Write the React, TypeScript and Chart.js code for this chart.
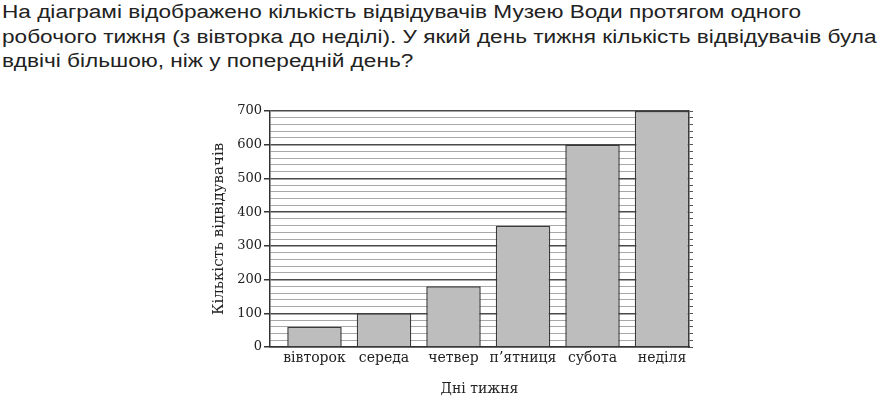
import React, { useEffect, useRef } from "react";
import { Chart, registerables } from "chart.js";

Chart.register(...registerables);

const questionLines = [
  "На діаграмі відображено кількість відвідувачів Музею Води протягом одного",
  "робочого тижня (з вівторка до неділі). У який день тижня кількість відвідувачів була",
  "вдвічі більшою, ніж у попередній день?",
];
const days = ["вівторок", "середа", "четвер", "п’ятниця", "субота", "неділя"];
const visitors = [60, 100, 180, 360, 600, 700];
const yTickLabels = [0, 100, 200, 300, 400, 500, 600, 700];
const yTitle = "Кількість відвідувачів";
const xTitle = "Дні тижня";

const SERIF = "'DejaVu Serif', serif";

export default function App() {
  const ref = useRef<HTMLCanvasElement | null>(null);

  useEffect(() => {
    if (!ref.current) return;
    const chart = new Chart(ref.current, {
      type: "bar",
      data: {
        datasets: [
          {
            data: visitors.map((v, i) => ({ x: i, y: v })),
            backgroundColor: "#bdbdbd",
            borderColor: "#3a3a3a",
            borderWidth: 1.5,
            categoryPercentage: 1,
            barPercentage: 0.784,
          },
        ],
      },
      options: {
        animation: false,
        responsive: false,
        maintainAspectRatio: false,
        devicePixelRatio: 1,
        layout: { padding: { top: 11, left: 0, right: 0, bottom: 0 } },
        plugins: { legend: { display: false }, tooltip: { enabled: false } },
        scales: {
          x: {
            type: "linear",
            offset: false,
            min: -0.64,
            max: 5.388,
            afterBuildTicks: (scale: any) => {
              scale.ticks = days.map((_, i) => ({ value: i }));
            },
            afterFit: (scale: any) => {
              scale.height = 56;
            },
            ticks: {
              autoSkip: false,
              maxRotation: 0,
              padding: 3,
              color: "#222",
              font: { family: SERIF, size: 14 },
              callback: (v: any) => days[v as number] ?? "",
            },
            grid: { display: false, drawTicks: false, offset: false },
            border: { display: true, color: "#333", width: 1.5 },
            title: {
              display: true,
              text: xTitle,
              color: "#222",
              font: { family: SERIF, size: 14 },
              padding: { top: 4, bottom: 5 },
            },
          },
          y: {
            min: 0,
            max: 700,
            position: "left",
            afterBuildTicks: (scale: any) => {
              const t: any[] = [];
              for (let v = 0; v <= 700; v += 20) t.push({ value: v });
              scale.ticks = t;
            },
            afterFit: (scale: any) => {
              scale.width = 70;
            },
            ticks: {
              autoSkip: false,
              padding: 2,
              color: "#222",
              font: { family: SERIF, size: 13 },
              callback: (v: any) => (yTickLabels.includes(v) ? String(v) : ""),
            },
            grid: {
              color: (c: any) => (c.tick && c.tick.value % 100 === 0 ? "#4a4a4a" : "#a8a8a8"),
              lineWidth: (c: any) => (c.tick && c.tick.value % 100 === 0 ? 1.5 : 1),
              tickColor: (c: any) => (c.tick && c.tick.value % 100 === 0 ? "#333" : "rgba(0,0,0,0)"),
              tickLength: 6,
            },
            border: { display: true, color: "#333", width: 1.5 },
            title: {
              display: true,
              text: yTitle,
              color: "#222",
              font: { family: SERIF, size: 15 },
              padding: { top: 10, bottom: 4 },
            },
          },
          y2: {
            min: 0,
            max: 700,
            position: "right",
            afterBuildTicks: (scale: any) => {
              const t: any[] = [];
              for (let v = 0; v <= 700; v += 20) t.push({ value: v });
              scale.ticks = t;
            },
            afterFit: (scale: any) => {
              scale.width = 21;
            },
            ticks: { display: false },
            grid: { drawOnChartArea: false, tickLength: 4, color: "#555", lineWidth: 1 },
            border: { display: true, color: "#333", width: 1.5 },
          },
        },
      },
    });
    return () => chart.destroy();
  }, []);

  return (
    <div
      style={{
        position: "fixed",
        left: 0,
        top: 0,
        width: 884,
        height: 403,
        background: "#fff",
        overflow: "hidden",
      }}
    >
      <div
        style={{
          position: "absolute",
          left: 2,
          top: 0,
          fontFamily: "'Liberation Sans', Arial, sans-serif",
          fontSize: 18,
          lineHeight: "24.5px",
          color: "#222",
          whiteSpace: "nowrap",
          transform: "scaleX(1.256)",
          transformOrigin: "0 0",
        }}
      >
        {questionLines.map((l, i) => (
          <div key={i}>{l}</div>
        ))}
      </div>
      <canvas
        ref={ref}
        width={510}
        height={303}
        style={{ position: "absolute", left: 200, top: 100, width: 510, height: 303 }}
      />
    </div>
  );
}
